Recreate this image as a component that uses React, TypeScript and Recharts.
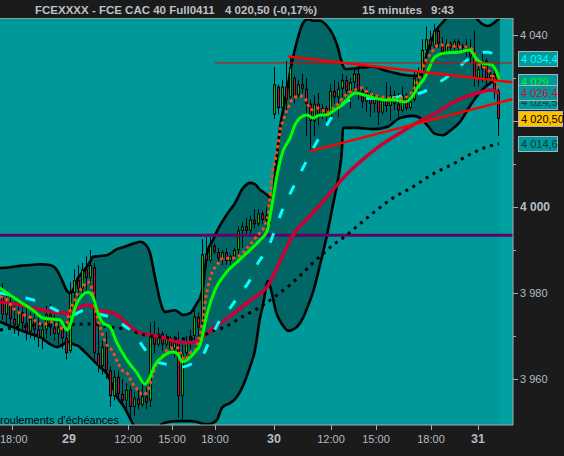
import React from 'react';
import {
  ComposedChart,
  XAxis,
  YAxis,
  Line,
  Area,
  Bar,
  ReferenceLine,
  ReferenceArea,
  ReferenceDot,
} from 'recharts';

// ---------------- data ----------------
const T_START = 0;
const T_END = 513;
const FUTURE_START = 500;
const Y_MIN = 3949.3;
const Y_MAX = 4043.95;

const TITLE_PARTS = ['FCEXXXX - FCE CAC 40 Full0411', '4 020,50 (-0,17%)', '15 minutes', '9:43'];
const NOTE_TEXT = "roulements d'échéances";

const X_TICKS = [12, 69, 128, 172, 215, 274, 331, 376, 431, 478];
const X_TICK_LABELS = ['18:00', '29', '12:00', '15:00', '18:00', '30', '12:00', '15:00', '18:00', '31'];
const DAY_LABELS = ['29', '30', '31'];

const Y_TICKS = [3960, 3970, 3980, 3990, 4000, 4010, 4020, 4030, 4040];
const Y_LABEL_VALUES = [3960, 3980, 4000, 4040];
const Y_LABEL_TEXTS = ['3 960', '3 980', '4 000', '4 040'];
const Y_BOLD_VALUE = 4000;

// last values shown in boxes on the price scale (drawing order)
const LAST_VALUES = [4034.4, 4029, 4024.5, 4026.4, 4020.5, 4014.6];
const LAST_TEXTS = ['4 034,4', '4 029', '4 024,5', '4 026,4', '4 020,50', '4 014,6'];

const PURPLE_LEVEL = 3993.4;
const RESIST_LEVEL = 4033.5;
const RESIST_START = 215;
const TREND_UPPER = [[288, 4035.0], [513, 4029.0]];
const TREND_LOWER = [[310, 4013.0], [513, 4025.1]];

// candles: [time slot, open, high, low, close]
const CANDLES: number[][] = [
  [2, 3979, 3982.3, 3973.7, 3975], [6, 3975, 3980, 3973, 3978], [10, 3978, 3979.5, 3972, 3974],
  [14, 3974, 3978, 3970.5, 3972.5], [18, 3972.5, 3977, 3970, 3975.5], [22, 3975.5, 3978, 3971, 3973],
  [26, 3973, 3976.5, 3969, 3971], [30, 3971, 3975.5, 3969.5, 3974], [34, 3974, 3976, 3969, 3971.5],
  [38, 3971.5, 3974.5, 3967.5, 3969.5], [42, 3969.5, 3973, 3967, 3971.5], [46, 3971.5, 3977, 3969.5, 3975],
  [50, 3975, 3977.5, 3970, 3972], [54, 3972, 3975, 3969, 3970.5], [58, 3970.5, 3974, 3968, 3972],
  [62, 3972, 3973.5, 3967, 3969.5], [66, 3969.5, 3972, 3964.5, 3966], [70, 3966.5, 3982.5, 3966, 3980],
  [74, 3980, 3985.5, 3975.5, 3983], [78, 3983, 3986.5, 3978, 3981], [82, 3981, 3987, 3979, 3985.5],
  [86, 3985.5, 3988.5, 3980.5, 3983.5], [90, 3983.5, 3990, 3982, 3986.5], [94, 3986, 3987, 3964.5, 3966],
  [98, 3966, 3973, 3961.5, 3963], [102, 3963, 3969, 3961, 3967.5], [106, 3967.5, 3971, 3960, 3962],
  [110, 3962, 3963, 3953.5, 3956], [114, 3956, 3962, 3955, 3960.5], [118, 3960.5, 3962, 3955, 3956.5],
  [122, 3956.5, 3960, 3953.5, 3955], [126, 3955, 3959, 3952, 3957.5], [130, 3957.5, 3958.5, 3951, 3953.5],
  [134, 3953.5, 3957, 3951.5, 3955.5], [138, 3955.5, 3957.5, 3953, 3954], [142, 3954, 3959.5, 3953.5, 3956],
  [146, 3956, 3958, 3953, 3954.5], [150, 3955, 3973, 3953.5, 3970], [154, 3970, 3973.5, 3966, 3968],
  [158, 3968, 3972, 3967.5, 3970.5], [162, 3970.5, 3971, 3966.5, 3968], [166, 3968, 3970.5, 3967.5, 3969.5],
  [170, 3969.5, 3970, 3966, 3967], [174, 3967, 3970, 3965, 3968.5], [178, 3968.5, 3971, 3951, 3956],
  [182, 3956, 3968, 3950.5, 3966], [186, 3966, 3970, 3964, 3968.5], [190, 3968.5, 3971.5, 3967, 3970],
  [194, 3970, 3976.5, 3969, 3974.5], [198, 3974.5, 3975.5, 3970, 3972], [202, 3973, 3992.5, 3972, 3989],
  [206, 3989, 3993, 3986, 3987.5], [210, 3987.5, 3993, 3987, 3991], [214, 3991, 3991.5, 3989, 3989.5],
  [218, 3989.5, 3990.5, 3986.5, 3988], [222, 3988, 3990, 3986.5, 3989.5], [226, 3989.5, 3990.5, 3986.5, 3987.5],
  [230, 3987.5, 3989, 3986.5, 3988.5], [234, 3988.5, 3990.5, 3987.5, 3990], [238, 3990, 3995.5, 3989, 3994.5],
  [242, 3994.5, 3996.5, 3990.5, 3995.5], [246, 3995.5, 3997.5, 3993.5, 3994.5], [250, 3994.5, 3998, 3993.5, 3997],
  [254, 3997, 3999.5, 3995, 3996], [258, 3996, 3999.5, 3995.5, 3998.5], [262, 3998.5, 3999, 3996, 3997],
  [266, 3997, 4000, 3994.5, 3998], [270, 3998, 4000.5, 3996, 3999], [274, 4021.5, 4032.5, 4020.5, 4028.5],
  [278, 4028, 4028.5, 4021.5, 4023], [282, 4023, 4029.5, 4022, 4028], [286, 4028, 4034, 4021.5, 4025],
  [290, 4025.5, 4035, 4024.5, 4032.5], [294, 4030, 4030.5, 4024, 4025.5], [298, 4026, 4029.5, 4025.5, 4028.5],
  [302, 4028.5, 4031, 4026.5, 4027.5], [306, 4027.5, 4030, 4016.5, 4024], [310, 4024, 4025, 4013, 4020],
  [314, 4020, 4026, 4016.5, 4024], [318, 4024, 4026.5, 4019, 4021.5], [322, 4021.5, 4024, 4020.5, 4023],
  [326, 4023, 4023.5, 4020, 4021], [330, 4021, 4028.5, 4020.5, 4027], [334, 4027, 4029.5, 4024, 4025.5],
  [338, 4025.5, 4029, 4021, 4027.5], [342, 4027.5, 4031, 4025.5, 4029.5], [346, 4029.5, 4030.5, 4025.5, 4027],
  [350, 4027, 4030, 4023, 4029], [354, 4029, 4032.5, 4027, 4031], [358, 4031, 4033.5, 4025, 4027],
  [362, 4027, 4027.5, 4023, 4024.5], [366, 4024.5, 4028, 4022, 4026.5], [370, 4026.5, 4027, 4021, 4024],
  [374, 4024, 4026, 4022, 4025], [378, 4025, 4026, 4019, 4022], [382, 4022, 4025.5, 4021.5, 4025],
  [386, 4025, 4029, 4022, 4023.5], [390, 4023.5, 4028, 4020, 4026], [394, 4026, 4027, 4022.5, 4024],
  [398, 4024, 4026.5, 4021, 4022.5], [402, 4022.5, 4028, 4022, 4026], [406, 4026, 4026.5, 4022.5, 4023],
  [410, 4023, 4025.5, 4022.5, 4024.5], [414, 4025, 4031.5, 4024.5, 4030], [418, 4030, 4032.5, 4027, 4031.5],
  [422, 4031.5, 4039, 4030, 4036.5], [426, 4036.5, 4042, 4035, 4039], [430, 4039, 4041, 4036.5, 4037.5],
  [434, 4037.5, 4042.5, 4037, 4041], [438, 4041, 4041.5, 4037, 4038], [442, 4038, 4039.5, 4035, 4036],
  [446, 4036, 4039, 4035.5, 4038], [450, 4038, 4038.5, 4036, 4037], [454, 4037, 4039, 4036.5, 4038.5],
  [458, 4038.5, 4039, 4036, 4037], [462, 4037, 4038, 4036, 4037.5], [466, 4037.5, 4039, 4035, 4036.5],
  [470, 4036.5, 4039, 4033.5, 4035], [474, 4035, 4041, 4028, 4030], [478, 4030, 4034, 4028, 4032],
  [482, 4032, 4036, 4029, 4034], [486, 4034, 4034.5, 4028, 4030], [490, 4030, 4032, 4028.5, 4031],
  [494, 4031, 4032, 4025, 4027], [498, 4027, 4027.5, 4016.5, 4020.5],
];

const GREEN_MA: number[][] = [
  [0, 3981.2], [7, 3980.0], [17, 3978.4], [33, 3976.0], [43, 3974.2], [60, 3973.7], [67, 3971.4],
  [77, 3977.7], [88, 3980.2], [93, 3979.1], [97, 3976.0], [103, 3973.0], [110, 3972.1], [117, 3968.4],
  [127, 3964.4], [137, 3961.4], [145, 3958.8], [150, 3960.5], [155, 3963.3], [162, 3965.1], [172, 3966.3],
  [177, 3966.0], [182, 3964.0], [187, 3964.4], [195, 3966.3], [200, 3967.9], [207, 3975.1], [215, 3980.7],
  [225, 3984.4], [238, 3987.4], [250, 3990.0], [260, 3992.3], [267, 3994.4], [272, 4000.5], [277, 4007.4],
  [283, 4013.0], [290, 4016.0], [295, 4019.1], [300, 4020.7], [307, 4021.4], [313, 4020.7], [320, 4021.4],
  [327, 4021.4], [333, 4022.3], [342, 4023.7], [355, 4026.5], [365, 4026.0], [375, 4025.3], [385, 4024.9],
  [395, 4024.9], [405, 4024.4], [412, 4025.6], [418, 4027.9], [425, 4030.2], [435, 4034.9], [445, 4035.8],
  [458, 4036.0], [470, 4036.5], [475, 4034.9], [482, 4033.5], [492, 4033.0], [497, 4031.2], [500, 4029.1],
];

const ORANGE_STOP: number[][] = [
  [0, 3979.1], [5, 3978.8], [13, 3976.5], [20, 3975.3], [30, 3974.4], [37, 3973.3], [43, 3972.6],
  [50, 3973.3], [57, 3972.6], [65, 3971.4], [70, 3976.0], [75, 3978.4], [78, 3980.0], [83, 3981.4],
  [87, 3982.6], [90, 3982.3], [95, 3976.7], [98, 3973.7], [102, 3970.7], [107, 3967.9], [112, 3966.7],
  [118, 3963.7], [122, 3962.1], [127, 3961.4], [132, 3959.1], [138, 3957.4], [143, 3956.3], [148, 3957.4],
  [152, 3960.5], [157, 3963.7], [162, 3965.1], [167, 3966.7], [172, 3967.2], [178, 3967.2], [182, 3965.1],
  [185, 3964.4], [190, 3966.0], [195, 3966.7], [200, 3970.2], [203, 3973.7], [205, 3977.7], [208, 3981.4],
  [212, 3984.7], [217, 3986.5], [223, 3988.1], [233, 3988.1], [240, 3988.8], [250, 3991.2], [258, 3993.5],
  [265, 3995.8], [268, 3998.1], [270, 4002.1], [272, 4007.4], [275, 4010.7], [278, 4014.4], [280, 4017.7],
  [283, 4020.0], [288, 4023.0], [293, 4025.3], [300, 4025.8], [305, 4025.3], [308, 4023.7], [312, 4022.6],
  [317, 4023.0], [322, 4022.6], [327, 4021.9], [333, 4023.0], [337, 4023.7], [343, 4025.3], [348, 4026.5],
  [355, 4027.2], [362, 4027.7], [368, 4026.5], [375, 4026.0], [382, 4025.6], [392, 4025.3], [402, 4025.3],
  [412, 4026.7], [418, 4029.5], [422, 4031.9], [425, 4033.7], [432, 4036.0], [435, 4037.2], [440, 4037.7],
  [447, 4037.7], [453, 4037.4], [460, 4037.2], [467, 4037.2], [473, 4036.5], [477, 4033.5], [483, 4032.6],
  [490, 4031.4], [493, 4030.2], [497, 4028.4], [499, 4027.2],
];

const CYAN_MA: number[][] = [
  [0, 3980.0], [20, 3979.1], [37, 3978.1], [60, 3975.6], [70, 3974.7], [85, 3976.0], [95, 3975.3],
  [110, 3974.4], [122, 3972.8], [133, 3970.7], [147, 3966.3], [157, 3964.0], [170, 3963.3], [182, 3962.8],
  [193, 3963.7], [203, 3965.6], [210, 3969.1], [220, 3973.7], [230, 3976.5], [240, 3979.8], [250, 3983.0],
  [258, 3987.0], [268, 3990.5], [275, 3994.7], [282, 3999.1], [292, 4004.0], [303, 4009.1], [315, 4014.4],
  [327, 4019.1], [335, 4022.1], [345, 4024.4], [355, 4025.1], [370, 4025.3], [385, 4025.1], [398, 4025.6],
  [410, 4026.0], [423, 4026.7], [435, 4028.4], [447, 4030.2], [460, 4032.8], [470, 4034.7], [480, 4036.0],
  [488, 4036.0], [495, 4035.3], [500, 4034.4],
];

const CRIMSON_MA: number[][] = [
  [0, 3977.9], [20, 3977.2], [43, 3976.0], [67, 3975.3], [87, 3977.2], [100, 3976.0], [117, 3974.9],
  [125, 3973.3], [138, 3970.9], [152, 3970.2], [165, 3969.5], [178, 3968.6], [192, 3968.4], [198, 3969.1],
  [205, 3970.2], [215, 3972.1], [225, 3973.7], [238, 3976.0], [252, 3978.6], [260, 3979.8], [267, 3981.4],
  [280, 3987.4], [293, 3993.5], [307, 3997.2], [320, 4000.5], [333, 4004.0], [345, 4007.2], [360, 4010.5],
  [377, 4013.7], [400, 4017.2], [420, 4020.0], [438, 4022.1], [452, 4024.2], [465, 4025.6], [478, 4026.5],
  [490, 4027.2], [499, 4026.5],
];

const BLACK_MA: number[][] = [
  [0, 3971.4], [20, 3972.1], [40, 3972.6], [63, 3972.6], [90, 3972.8], [115, 3971.9], [128, 3971.6],
  [140, 3970.5], [160, 3969.8], [173, 3969.5], [187, 3969.3], [200, 3969.8], [213, 3971.2], [227, 3972.3],
  [240, 3974.2], [257, 3976.3], [277, 3979.5], [290, 3981.9], [300, 3984.0], [313, 3987.0], [323, 3989.1],
  [333, 3991.2], [343, 3992.8], [353, 3994.7], [373, 3998.6], [393, 4002.1], [413, 4004.7], [433, 4007.7],
  [453, 4010.0], [473, 4012.6], [490, 4014.2], [499, 4014.7],
];

const BAND_T = [
  0, 10, 20, 30, 40, 50, 57, 62, 67, 70, 73, 78, 83, 90, 93, 100, 107, 117, 124, 130,
  135, 140, 145, 150, 155, 162, 165, 175, 183, 190, 197, 200, 203, 207, 213, 217, 222, 230, 234, 243,
  250, 255, 260, 263, 268, 272, 276, 280, 284, 288, 292, 297, 303, 308, 313, 320, 327, 333, 338, 340,
  342, 343, 345, 357, 373, 387, 400, 413, 420, 428, 435, 443, 450, 460, 470, 477, 482, 488, 495, 500,
];
const BAND_UPPER = [
  3985.8, 3986.0, 3986.3, 3986.5, 3986.7, 3986.5, 3985.3, 3983.0, 3980.5, 3980.0,
  3980.7, 3983.5, 3984.9, 3987.2, 3988.4, 3988.6, 3988.8, 3990.2, 3990.7, 3991.2,
  3991.6, 3991.9, 3991.4, 3989.3, 3983.7, 3976.7, 3975.6, 3976.0, 3974.9, 3975.3,
  3977.7, 3978.8, 3981.4, 3989.3, 3992.3, 3994.4, 3996.5, 3999.3, 4000.5, 4004.4,
  4005.6, 4005.3, 4004.0, 4003.5, 4002.6, 4001.6, 4009.8, 4018.4, 4023.7, 4028.4,
  4033.7, 4038.6, 4042.8, 4043.7, 4043.3, 4043.3, 4042.1, 4040.0, 4037.0, 4035.1,
  4033.5, 4032.8, 4032.1, 4032.3, 4032.6, 4031.6, 4030.9, 4030.5, 4030.5, 4036.5,
  4040.7, 4043.0, 4044.7, 4045.8, 4045.3, 4043.7, 4042.6, 4042.1, 4043.0, 4044.0,
];
const BAND_LOWER = [
  3973.3, 3972.3, 3971.4, 3970.5, 3969.8, 3968.1, 3967.4, 3967.9, 3968.6, 3968.6,
  3968.1, 3967.7, 3966.7, 3965.1, 3964.4, 3962.8, 3961.2, 3955.8, 3953.5, 3950.9,
  3948.6, 3946.7, 3945.8, 3946.5, 3947.7, 3949.5, 3949.8, 3950.2, 3950.2, 3950.2,
  3950.0, 3949.8, 3949.5, 3949.5, 3949.8, 3950.5, 3953.3, 3954.4, 3955.1, 3958.4,
  3962.8, 3966.7, 3974.2, 3977.2, 3982.8, 3979.8, 3975.6, 3973.5, 3972.1, 3971.2,
  3971.4, 3972.1, 3974.2, 3977.0, 3980.2, 3986.5, 3993.5, 4000.5, 4006.3, 4009.1,
  4013.7, 4018.4, 4018.4, 4018.4, 4018.1, 4018.6, 4020.7, 4021.2, 4020.7, 4018.8,
  4017.0, 4016.7, 4017.7, 4019.8, 4023.5, 4025.8, 4027.2, 4028.4, 4029.5, 4030.2,
];

// ---------------- table built from the arrays ----------------
type Row = { t: number; [k: string]: any };
function buildRows(): Row[] {
  const map = new Map<number, Row>();
  const row = (t: number) => {
    let r = map.get(t);
    if (!r) {
      r = { t };
      map.set(t, r);
    }
    return r;
  };
  CANDLES.forEach(([t, o, h, l, c]) => Object.assign(row(t), { o, h, l, c }));
  const addLine = (key: string, pts: number[][]) => pts.forEach(([t, v]) => { row(t)[key] = v; });
  addLine('green', GREEN_MA);
  addLine('orange', ORANGE_STOP);
  addLine('cyan', CYAN_MA);
  addLine('crimson', CRIMSON_MA);
  addLine('black', BLACK_MA);
  BAND_T.forEach((t, i) =>
    Object.assign(row(t), { upper: BAND_UPPER[i], lower: BAND_LOWER[i], band: [BAND_LOWER[i], BAND_UPPER[i]] })
  );
  return [...map.values()].sort((a, b) => a.t - b.t);
}
const DATA = buildRows();

// ---------------- styles ----------------
const FONT = '"Liberation Sans", Arial, Helvetica, sans-serif';
const BG_DARK = '#1b1b1b';
const PLOT_BG = '#009999';
const FUTURE_BG = '#00a0a0';
const BAND_FILL = '#006666';
const AXIS_LINE = '#a3acb5';
const AXIS_TEXT = '#b3bbc3';
const CANDLE_UP = '#00c800';
const CANDLE_DOWN = '#d0003c';

const BOX_STYLES = [
  { color: '#00ffff', bg: '#009999', w: 39 },
  { color: '#00ff00', bg: '#009999', w: 39 },
  { color: '#004848', bg: '#009999', w: 39 },
  { color: '#e0003c', bg: '#009999', w: 39 },
  { color: '#000000', bg: '#ffc000', w: 44 },
  { color: '#003a3a', bg: '#009999', w: 39 },
];
const TITLE_X = [35, 225, 362, 431];

// ---------------- renderers ----------------
function Candle(props: any) {
  const { x, y, width, height, payload } = props;
  if (!payload || payload.h == null || x == null || y == null || !isFinite(height) || !isFinite(y)) return <g />;
  const top = Math.min(y, y + height);
  const span = Math.abs(height);
  const range = payload.h - payload.l || 1;
  const cx = Math.round(x + width / 2) + 0.5;
  const yO = top + ((payload.h - payload.o) / range) * span;
  const yC = top + ((payload.h - payload.c) / range) * span;
  const bt = Math.min(yO, yC);
  const bb = Math.max(yO, yC);
  const up = payload.c >= payload.o;
  return (
    <g>
      <line x1={cx} x2={cx} y1={top} y2={top + span} stroke="#000" strokeWidth={1} />
      <rect x={cx - 1.5} y={bt} width={3} height={Math.max(bb - bt, 1)} fill="#000" />
      {bb - bt > 2 && <rect x={cx - 0.5} y={bt + 1} width={1} height={bb - bt - 2} fill={up ? CANDLE_UP : CANDLE_DOWN} />}
    </g>
  );
}

function XTick(props: any) {
  const { x, y, payload } = props;
  const i = X_TICKS.indexOf(payload.value);
  const label = X_TICK_LABELS[i] ?? '';
  const isDay = DAY_LABELS.includes(label);
  const nearEdge = !isDay && x < 14;
  return (
    <g>
      <line x1={x + 0.5} x2={x + 0.5} y1={y} y2={y + 5} stroke={AXIS_LINE} strokeWidth={1} />
      <text
        x={nearEdge ? 0 : x}
        y={y + 18}
        textAnchor={nearEdge ? 'start' : 'middle'}
        fill={AXIS_TEXT}
        fontFamily={FONT}
        fontSize={isDay ? 12.5 : 11}
        fontWeight={isDay ? 'bold' : 'normal'}
      >
        {label}
      </text>
    </g>
  );
}

function YTick(props: any) {
  const { x, y, payload } = props;
  const v = payload.value;
  const li = Y_LABEL_VALUES.indexOf(v);
  const major = li >= 0 || v === 4020;
  const bold = v === Y_BOLD_VALUE;
  const yy = Math.round(y) + 0.5;
  return (
    <g>
      <line x1={x} x2={x + (major ? 5 : 3)} y1={yy} y2={yy} stroke={AXIS_LINE} strokeWidth={1} />
      {li >= 0 && (
        <text x={x + 7} y={y + 4} fill={AXIS_TEXT} fontFamily={FONT} fontSize={bold ? 12 : 11} fontWeight={bold ? 'bold' : 'normal'}>
          {Y_LABEL_TEXTS[li]}
        </text>
      )}
    </g>
  );
}

function ValueBox(props: any) {
  const { cx, cy, idx } = props;
  if (cx == null || cy == null) return <g />;
  const s = BOX_STYLES[idx];
  const yc = Math.round(cy);
  return (
    <g>
      <rect x={cx + 5.5} y={yc - 7.5} width={s.w} height={15} fill={s.bg} stroke="#a9b1b9" strokeWidth={1} />
      <text x={cx + 8} y={yc + 4} fill={s.color} fontFamily={FONT} fontSize={11}>
        {LAST_TEXTS[idx]}
      </text>
    </g>
  );
}

export default function App() {
  return (
    <div style={{ position: 'absolute', left: 0, top: 0, width: 564, height: 456, background: BG_DARK }}>
      <ComposedChart
        width={564}
        height={456}
        data={DATA}
        margin={{ top: 18, right: 0, bottom: 0, left: 0 }}
      >
        <XAxis
          dataKey="t"
          type="number"
          domain={[T_START, T_END]}
          allowDataOverflow
          ticks={X_TICKS}
          interval={0}
          height={31}
          tickSize={0}
          tickMargin={0}
          tickLine={false}
          axisLine={{ stroke: AXIS_LINE }}
          tick={<XTick />}
        />
        <YAxis
          orientation="right"
          type="number"
          domain={[Y_MIN, Y_MAX]}
          allowDataOverflow
          ticks={Y_TICKS}
          interval={0}
          width={51}
          tickSize={0}
          tickMargin={0}
          tickLine={false}
          axisLine={{ stroke: AXIS_LINE }}
          tick={<YTick />}
        />

        <ReferenceArea x1={T_START} x2={T_END} y1={Y_MIN} y2={Y_MAX} fill={PLOT_BG} fillOpacity={1} stroke="none" zIndex={-60} />
        <ReferenceArea x1={FUTURE_START} x2={T_END} y1={Y_MIN} y2={Y_MAX} fill={FUTURE_BG} fillOpacity={1} stroke="none" zIndex={-50} />

        <Area dataKey="band" type="monotone" fill={BAND_FILL} fillOpacity={1} stroke="none" connectNulls isAnimationActive={false} dot={false} activeDot={false} zIndex={100} />
        <Line dataKey="upper" type="monotone" stroke="#000" strokeWidth={2.6} dot={false} activeDot={false} connectNulls isAnimationActive={false} zIndex={150} />
        <Line dataKey="lower" type="monotone" stroke="#000" strokeWidth={2.6} dot={false} activeDot={false} connectNulls isAnimationActive={false} zIndex={151} />

        <Bar
          dataKey={(r: any) => (r.h == null ? null : [r.l, r.h])}
          barSize={3}
          shape={(p: any) => <Candle {...p} />}
          isAnimationActive={false}
          zIndex={300}
        />

        <ReferenceLine y={PURPLE_LEVEL} stroke="#660066" strokeWidth={3} zIndex={350} />

        <Line dataKey="crimson" type="monotone" stroke="#cc0033" strokeWidth={3.5} dot={false} activeDot={false} connectNulls isAnimationActive={false} zIndex={400} />
        <Line dataKey="black" type="monotone" stroke="#000" strokeWidth={3} strokeDasharray="3 5" dot={false} activeDot={false} connectNulls isAnimationActive={false} zIndex={410} />
        <Line dataKey="cyan" type="monotone" stroke="#00ffff" strokeWidth={3} strokeDasharray="10 16" dot={false} activeDot={false} connectNulls isAnimationActive={false} zIndex={420} />
        <Line dataKey="orange" type="monotone" stroke="#ff4a10" strokeWidth={3} strokeDasharray="3 3" dot={false} activeDot={false} connectNulls isAnimationActive={false} zIndex={430} />
        <Line dataKey="green" type="monotone" stroke="#00ff00" strokeWidth={3} dot={false} activeDot={false} connectNulls isAnimationActive={false} zIndex={440} />

        <ReferenceLine
          segment={[{ x: RESIST_START, y: RESIST_LEVEL }, { x: T_END, y: RESIST_LEVEL }]}
          stroke="#e00000"
          strokeWidth={1}
          zIndex={450}
        />
        <ReferenceLine
          segment={[{ x: TREND_UPPER[0][0], y: TREND_UPPER[0][1] }, { x: TREND_UPPER[1][0], y: TREND_UPPER[1][1] }]}
          stroke="#ff0000"
          strokeWidth={2.5}
          zIndex={460}
        />
        <ReferenceLine
          segment={[{ x: TREND_LOWER[0][0], y: TREND_LOWER[0][1] }, { x: TREND_LOWER[1][0], y: TREND_LOWER[1][1] }]}
          stroke="#ff0000"
          strokeWidth={2.5}
          zIndex={461}
        />

        {LAST_VALUES.map((v, i) => (
          <ReferenceDot
            key={i}
            x={T_END}
            y={v}
            r={0}
            ifOverflow="visible"
            shape={(p: any) => <ValueBox {...p} idx={i} />}
            zIndex={2500 + i}
          />
        ))}
      </ComposedChart>

      <svg width={564} height={456} style={{ position: 'absolute', left: 0, top: 0, pointerEvents: 'none' }}>
        <line x1={0} x2={513} y1={18.5} y2={18.5} stroke="#8c9ca4" strokeWidth={1} />
        {TITLE_PARTS.map((txt, i) => (
          <text key={i} x={TITLE_X[i]} y={14} fill="#b9c1c9" fontFamily={FONT} fontSize={11.5} fontWeight="bold">
            {txt}
          </text>
        ))}
        <text x={0} y={424} fill="#000" fontFamily={FONT} fontSize={11}>
          {NOTE_TEXT}
        </text>
      </svg>
    </div>
  );
}
